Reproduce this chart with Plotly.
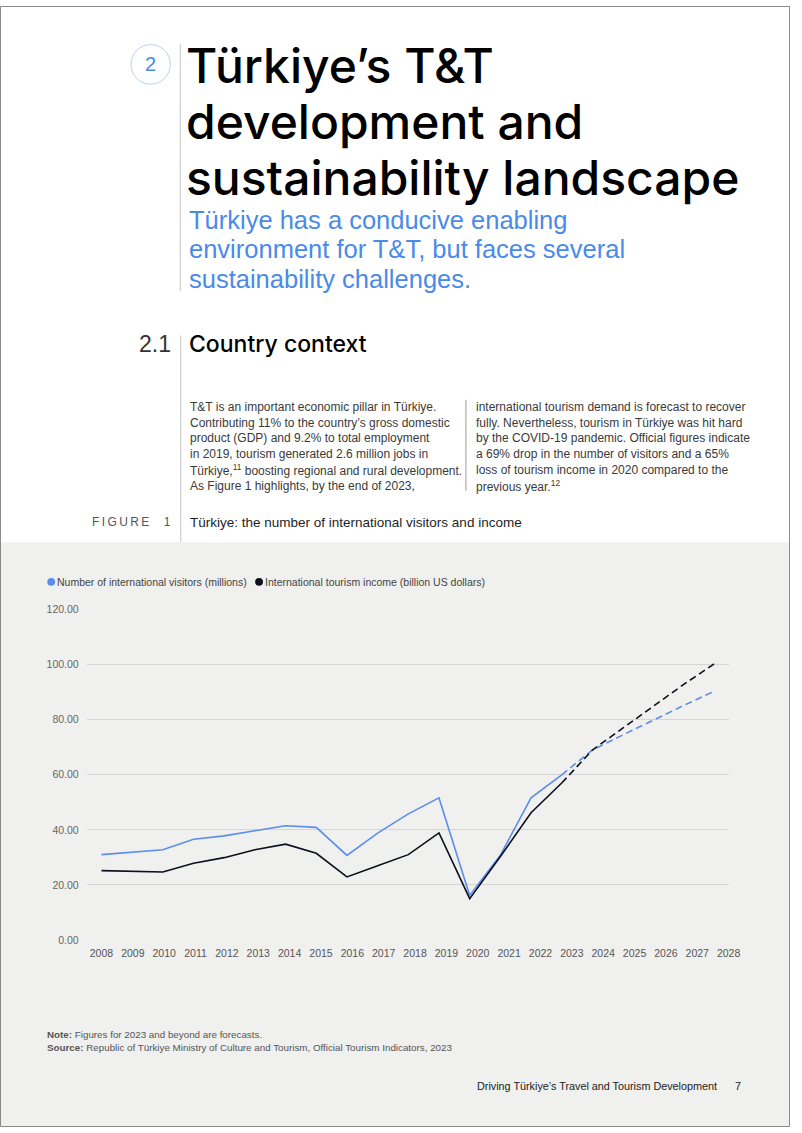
import plotly.graph_objects as go

W, H = 802, 1133
FONT = "Liberation Sans, Arial, Helvetica, sans-serif"
TFONT = "Inter, Liberation Sans, Arial, sans-serif"

# ---------------- data ----------------
years_actual = [2008, 2009, 2010, 2011, 2012, 2013, 2014, 2015, 2016, 2017,
                2018, 2019, 2020, 2021, 2022, 2023]
visitors_actual = [31.0, 31.8, 32.8, 36.6, 37.8, 39.7, 41.5, 40.9, 30.7, 38.8,
                   45.8, 51.6, 16.2, 30.8, 51.6, 60.0]
income_actual = [25.2, 25.0, 24.7, 27.9, 29.9, 32.8, 34.8, 31.5, 22.9, 27.0,
                 31.0, 38.9, 15.0, 30.3, 46.2, 57.0]

years_forecast = [2023, 2024, 2025, 2026, 2027, 2028]
visitors_forecast = [60.0, 69.0, 74.5, 80.0, 85.3, 90.5]
income_forecast = [57.0, 69.0, 77.0, 85.0, 93.0, 100.5]

tick_years = list(range(2008, 2029))
y_ticks = [0, 20, 40, 60, 80, 100, 120]

series_names = ["Number of international visitors (millions)",
                "International tourism income (billion US dollars)"]

BLUE = "#5b8def"
NAVY = "#0b0f1e"


def px(x):
    return x / W


def py(y):
    return 1 - y / H


fig = go.Figure()

# lines
fig.add_trace(go.Scatter(x=years_actual, y=visitors_actual, mode="lines",
                         line=dict(color=BLUE, width=1.6), name=series_names[0]))
fig.add_trace(go.Scatter(x=years_actual, y=income_actual, mode="lines",
                         line=dict(color=NAVY, width=1.6), name=series_names[1]))
fig.add_trace(go.Scatter(x=years_forecast, y=visitors_forecast, mode="lines",
                         line=dict(color=BLUE, width=1.6, dash="7px,4px"),
                         showlegend=False))
fig.add_trace(go.Scatter(x=years_forecast, y=income_forecast, mode="lines",
                         line=dict(color=NAVY, width=1.6, dash="7px,4px"),
                         showlegend=False))
# helper trace for the label axis
fig.add_trace(go.Scatter(x=[tick_years[0]], y=[None], xaxis="x2", mode="markers",
                         showlegend=False, hoverinfo="skip"))

x_dom = [px(88), px(740)]
y_dom = [py(944), py(610)]

fig.update_layout(
    width=W, height=H,
    margin=dict(l=0, r=0, t=0, b=0),
    paper_bgcolor="white",
    plot_bgcolor="rgba(0,0,0,0)",
    showlegend=False,
    hovermode=False,
    xaxis=dict(domain=x_dom, range=[2007.518, 2028.449], visible=False,
               anchor="y", fixedrange=True),
    xaxis2=dict(domain=x_dom, range=[2007.529, 2028.01], overlaying="x",
                anchor="y", side="bottom", tickmode="array", tickvals=tick_years,
                ticktext=[str(v) for v in tick_years], showgrid=False,
                zeroline=False, showline=False, ticks="",
                tickfont=dict(family=FONT, size=10.5, color="#555555"),
                ticklabelstandoff=5),
    yaxis=dict(domain=y_dom, range=[0, 120], tickmode="array", tickvals=y_ticks,
               tickformat=".2f", showgrid=True, gridcolor="#d5d5d3", gridwidth=1,
               zeroline=False, showline=False, ticks="",
               tickfont=dict(family=FONT, size=10.5, color="#666666"),
               ticklabelstandoff=7, anchor="x"),
)

shapes = []
# gray lower region
shapes.append(dict(type="rect", xref="paper", yref="paper", x0=0, x1=1,
                   y0=0, y1=py(542), fillcolor="#f0f0ee", line=dict(width=0),
                   layer="below"))
# page border
shapes.append(dict(type="rect", xref="paper", yref="paper", x0=px(0.5), x1=px(801.5),
                   y0=py(1132.5), y1=py(0.5), line=dict(color="#8a8a8a", width=1),
                   fillcolor="rgba(0,0,0,0)", layer="above"))
# circle around section number
shapes.append(dict(type="circle", xref="paper", yref="paper", x0=px(133), x1=px(173),
                   y0=py(79), y1=py(39), line=dict(color="#b9d0f2", width=1)))
# vertical rules
shapes.append(dict(type="line", xref="paper", yref="paper", x0=px(183), x1=px(183),
                   y0=py(38), y1=py(288), line=dict(color="#c4c4c4", width=1)))
shapes.append(dict(type="line", xref="paper", yref="paper", x0=px(183.5), x1=px(183.5),
                   y0=py(333), y1=py(542), line=dict(color="#c4c4c4", width=1)))
shapes.append(dict(type="line", xref="paper", yref="paper", x0=px(473), x1=px(473),
                   y0=py(398), y1=py(490), line=dict(color="#9a9a9a", width=1)))
# legend dots
for cx, col in [(52, BLUE), (263, NAVY)]:
    shapes.append(dict(type="circle", xref="paper", yref="paper",
                       x0=px(cx - 4), x1=px(cx + 4), y0=py(586), y1=py(578),
                       fillcolor=col, line=dict(width=0)))
fig.update_layout(shapes=shapes)


def txt(x, y, s, size, color, xanchor="left", weight="normal", family=FONT):
    fig.add_annotation(x=px(x), y=py(y), xref="paper", yref="paper", text=s,
                       showarrow=False, xanchor=xanchor, yanchor="middle",
                       align=xanchor, borderpad=0,
                       font=dict(family=family, size=size, color=color, weight=weight))


# header
txt(153, 59, "2", 20, "#4a8ae8", xanchor="center")
title_lines = ["Türkiye’s T&T", "development and", "sustainability landscape"]
for i, line in enumerate(title_lines):
    txt(188, 60 + 56.5 * i, line, 48, "#000000", weight=500, family=TFONT)
sub_lines = ["Türkiye has a conducive enabling",
             "environment for T&T, but faces several",
             "sustainability challenges."]
for i, line in enumerate(sub_lines):
    txt(191, 216 + 30 * i, line, 25.5, "#4a8ae8")

txt(175, 342, "2.1", 23, "#333333", xanchor="right")
txt(191, 342, "Country context", 23, "#000000", weight=500, family=TFONT)

left_col = ["T&T is an important economic pillar in Türkiye.",
            "Contributing 11% to the country’s gross domestic",
            "product (GDP) and 9.2% to total employment",
            "in 2019, tourism generated 2.6 million jobs in",
            "Türkiye,<sup>11</sup> boosting regional and rural development.",
            "As Figure 1 highlights, by the end of 2023,"]
right_col = ["international tourism demand is forecast to recover",
             "fully. Nevertheless, tourism in Türkiye was hit hard",
             "by the COVID-19 pandemic. Official figures indicate",
             "a 69% drop in the number of visitors and a 65%",
             "loss of tourism income in 2020 compared to the",
             "previous year.<sup>12</sup>"]
for i, line in enumerate(left_col):
    txt(192, 405 + 16 * i, line, 12, "#3a3a3a")
for i, line in enumerate(right_col):
    txt(482, 405 + 16 * i, line, 12, "#3a3a3a")

txt(175, 522, "F\u2009I\u2009G\u2009U\u2009R\u2009E\u2003\u20091", 12, "#555555",
    xanchor="right")
txt(192, 522, "Türkiye: the number of international visitors and income", 13.5, "#1e1e1e")

# legend labels
txt(57, 582, series_names[0], 10.5, "#444444")
txt(268, 582, series_names[1], 10.5, "#444444")

# note / source
txt(47, 1040, "<b>Note:</b> Figures for 2023 and beyond are forecasts.", 9.8, "#555555")
txt(47, 1053, "<b>Source:</b> Republic of Türkiye Ministry of Culture and Tourism, "
    "Official Tourism Indicators, 2023", 9.8, "#555555")

# footer
txt(729, 1092, "Driving Türkiye’s Travel and Tourism Development", 10.8, "#222222",
    xanchor="right")
txt(753, 1092, "7", 10.8, "#222222", xanchor="right")

fig.write_html(
    "out.html",
    config={"displayModeBar": False},
    post_script="document.body.style.margin='0';",
)
